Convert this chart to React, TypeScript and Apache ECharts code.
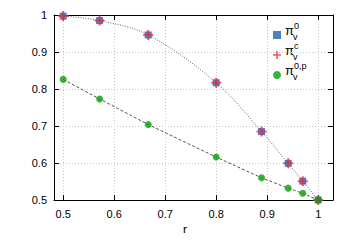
import React, { useEffect, useRef } from "react";
import * as echarts from "echarts";

const rValues = [0.5, 0.5714, 0.6667, 0.8, 0.8889, 0.9412, 0.9697, 1.0];
const piV0 = [0.997, 0.985, 0.946, 0.817, 0.685, 0.599, 0.551, 0.5];
const piVc = [0.997, 0.985, 0.946, 0.817, 0.685, 0.599, 0.551, 0.5];
const piV0p = [0.826, 0.773, 0.704, 0.616, 0.56, 0.532, 0.518, 0.5];
const xTicks = [0.5, 0.6, 0.7, 0.8, 0.9, 1];
const seriesNames = ["pi0", "pic", "pi0p"];
const supLabels = ["0", "c", "0,p"];
const xAxisTitle = "r";

const pts = (ys: number[]) => rValues.map((x, i) => [x, ys[i]]);

export default function App() {
  const ref = useRef<HTMLDivElement>(null);
  useEffect(() => {
    if (!ref.current) return;
    const chart = echarts.init(ref.current, undefined, { renderer: "svg" });
    const font = "Liberation Sans, Arial, sans-serif";
    const axisLine = { show: true, lineStyle: { color: "#000", width: 1 } };
    const grid = { show: true, lineStyle: { color: "#c8c8c8", type: [1, 2], width: 1 } };
    const legendY0 = 30;
    const gap = 20;
    const graphics: any[] = [
      {
        type: "text", left: 183, top: 224,
        style: { text: xAxisTitle, fontSize: 12, lineHeight: 12, fontFamily: font, fill: "#000" },
      },
    ];
    supLabels.forEach((s, i) => {
      const cy = legendY0 + gap * i;
      graphics.push({
        type: "text", left: 285, top: cy - 6,
        style: { text: "π", fontSize: 13, lineHeight: 13, fontFamily: font, fill: "#000" },
      });
      graphics.push({
        type: "text", left: 293, top: cy + 2,
        style: { text: "v", fontSize: 9, lineHeight: 9, fontFamily: font, fill: "#000" },
      });
      graphics.push({
        type: "text", left: 294, top: cy - 9,
        style: { text: s, fontSize: 9, lineHeight: 9, fontFamily: font, fill: "#000" },
      });
    });
    chart.setOption({
      animation: false,
      grid: { left: 54, right: 12, top: 15, bottom: 41, outerBoundsMode: "none", containLabel: false },
      xAxis: [
        {
          type: "value", min: 0.482, max: 1.029, position: "bottom",
          axisLine,
          axisTick: { show: true, inside: true, length: 5, customValues: xTicks, lineStyle: { color: "#000" } },
          axisLabel: { customValues: xTicks, fontSize: 11, fontFamily: font, color: "#000", margin: 8 },
          splitLine: grid,
        },
        {
          type: "value", min: 0.482, max: 1.029, position: "top",
          axisLine,
          axisTick: { show: true, inside: true, length: 5, customValues: xTicks, lineStyle: { color: "#000" } },
          axisLabel: { show: false, customValues: xTicks },
          splitLine: { show: false },
        },
      ],
      yAxis: [
        {
          type: "value", min: 0.5, max: 1, interval: 0.1, position: "left",
          axisLine,
          axisTick: { show: true, inside: true, length: 5, lineStyle: { color: "#000" } },
          axisLabel: { fontSize: 11, fontFamily: font, color: "#000", margin: 7 },
          splitLine: grid,
        },
        {
          type: "value", min: 0.5, max: 1, interval: 0.1, position: "right",
          axisLine,
          axisTick: { show: true, inside: true, length: 5, lineStyle: { color: "#000" } },
          axisLabel: { show: false },
          splitLine: { show: false },
        },
      ],
      legend: {
        orient: "vertical", left: 268, top: legendY0 - 4,
        itemWidth: 8, itemHeight: 8, itemGap: 12,
        data: [
          { name: seriesNames[0], icon: "rect" },
          { name: seriesNames[1], icon: "path://M4,0H6V4H10V6H6V10H4V6H0V4H4Z" },
          { name: seriesNames[2], icon: "circle" },
        ],
        formatter: () => "{p| }",
        textStyle: { rich: { p: { fontSize: 8, lineHeight: 8 } } },
      },
      graphic: graphics,
      series: [
        {
          type: "line", data: pts(piV0), smooth: 0.35, symbol: "none", silent: true,
          lineStyle: { color: "#666", width: 1, type: [1, 1.5] }, z: 1,
        },
        {
          type: "line", data: pts(piV0p), symbol: "none", silent: true,
          lineStyle: { color: "#555", width: 1, type: [3, 2] }, z: 1,
        },
        {
          name: seriesNames[0], type: "scatter", data: pts(piV0), symbol: "rect", symbolSize: 7,
          itemStyle: { color: "#1f62b0" }, z: 3,
        },
        {
          name: seriesNames[1], type: "scatter", data: pts(piVc),
          symbol: "path://M4,0H6V4H10V6H6V10H4V6H0V4H4Z", symbolSize: 10,
          itemStyle: { color: "#ef2b3a" }, z: 4,
        },
        {
          name: seriesNames[2], type: "scatter", data: pts(piV0p), symbol: "circle", symbolSize: 7,
          itemStyle: { color: "#0a9e0a" }, z: 5,
        },
      ],
    });
    return () => chart.dispose();
  }, []);
  return <div ref={ref} style={{ width: 345, height: 241, margin: -8 }} />;
}
